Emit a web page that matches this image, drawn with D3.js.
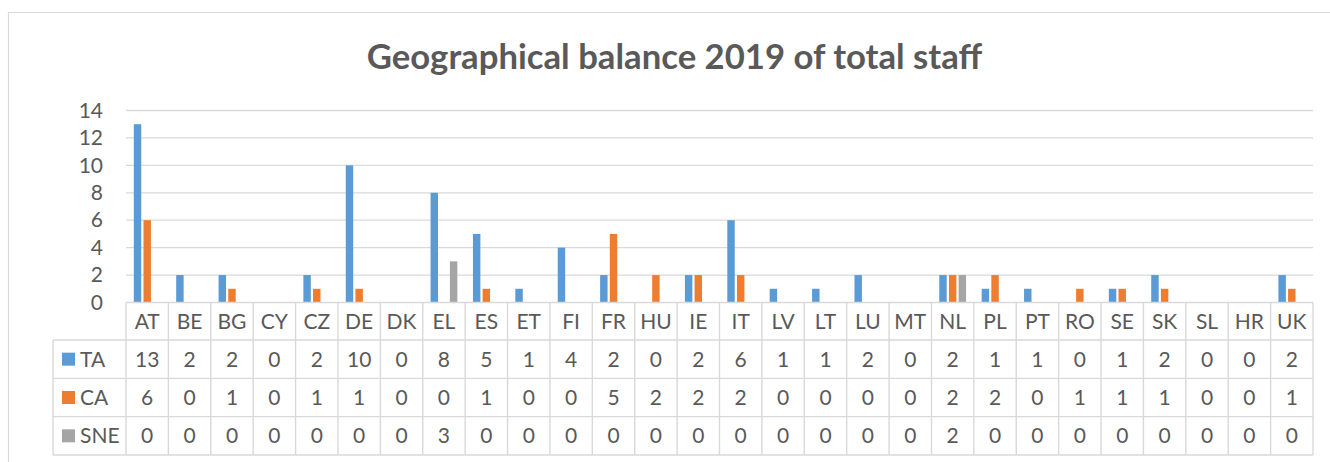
<!DOCTYPE html>
<html>
<head>
<meta charset="utf-8">
<script src="https://cdn.jsdelivr.net/npm/d3@7"></script>
<style>
  html, body { margin: 0; padding: 0; background: #fff; }
  svg { display: block; }
</style>
</head>
<body>
<svg id="chart" width="1330" height="462"></svg>
<script>
const categories = ["AT","BE","BG","CY","CZ","DE","DK","EL","ES","ET","FI","FR","HU","IE","IT","LV","LT","LU","MT","NL","PL","PT","RO","SE","SK","SL","HR","UK"];
const seriesNames = ["TA","CA","SNE"];
const taValues  = [13,2,2,0,2,10,0,8,5,1,4,2,0,2,6,1,1,2,0,2,1,1,0,1,2,0,0,2];
const caValues  = [6,0,1,0,1,1,0,0,1,0,0,5,2,2,2,0,0,0,0,2,2,0,1,1,1,0,0,1];
const sneValues = [0,0,0,0,0,0,0,3,0,0,0,0,0,0,0,0,0,0,0,2,0,0,0,0,0,0,0,0];
const yTicks = [0,2,4,6,8,10,12,14];
const titleText = "Geographical balance 2019 of total staff";

const seriesValues = [taValues, caValues, sneValues];
const colors = ["#5B9BD5", "#ED7D31", "#A5A5A5"];
const font = "Lato, 'Open Sans', sans-serif";
const textColor = "#595959";
const lineColor = "#D9D9D9";

const svg = d3.select("#chart");
svg.append("rect").attr("width", 1330).attr("height", 462).attr("fill", "#fff");

// chart frame
svg.append("path")
  .attr("d", "M8.5,462 V12.5 H1330")
  .attr("fill", "none").attr("stroke", lineColor).attr("stroke-width", 1.2);

// title
svg.append("text")
  .attr("x", 674.5).attr("y", 69)
  .attr("text-anchor", "middle")
  .attr("font-family", font).attr("font-weight", "bold")
  .attr("font-size", 34.7).attr("fill", textColor)
  .text(titleText);

const plotLeft = 126, plotRight = 1313;
const x = d3.scaleBand().domain(categories).range([plotLeft, plotRight]).padding(0);
const y = d3.scaleLinear().domain([0, 14]).range([302.5, 110.5]);
const x1 = d3.scaleBand().domain(seriesNames)
  .range([7.8, x.bandwidth() - 7.8]).paddingInner(0.23);

// gridlines
svg.append("g").selectAll("line").data(yTicks.filter(d => d > 0)).join("line")
  .attr("x1", plotLeft).attr("x2", plotRight)
  .attr("y1", d => y(d)).attr("y2", d => y(d))
  .attr("stroke", lineColor).attr("stroke-width", 1.3);

// y axis labels
const yAxis = svg.append("g").attr("transform", "translate(106,0)")
  .call(d3.axisLeft(y).tickValues(yTicks).tickSize(0).tickPadding(3));
yAxis.select(".domain").remove();
yAxis.selectAll("text")
  .attr("font-family", font).attr("font-size", 21).attr("fill", textColor);

// bars
const groups = svg.append("g").selectAll("g").data(categories).join("g")
  .attr("transform", d => `translate(${x(d)},0)`);
groups.selectAll("rect")
  .data((c, i) => seriesNames.map((s, k) => ({ s, k, v: seriesValues[k][i] })))
  .join("rect")
  .attr("x", d => x1(d.s))
  .attr("width", x1.bandwidth())
  .attr("y", d => y(d.v))
  .attr("height", d => y(0) - y(d.v))
  .attr("fill", d => colors[d.k]);

// data table
const rowTop = 302.5, headerBottom = 340, rowH = 38.33;
const legendLeft = 53;
const rowsY = seriesNames.map((s, k) => headerBottom + k * rowH);
const tableBottom = headerBottom + 3 * rowH;
const tbl = svg.append("g").attr("stroke", lineColor).attr("stroke-width", 1.4);

// axis line / table top
tbl.append("line").attr("x1", plotLeft).attr("x2", plotRight)
  .attr("y1", rowTop).attr("y2", rowTop);
// horizontal row lines
tbl.selectAll(".hl").data([headerBottom, ...rowsY.slice(1), tableBottom]).join("line")
  .attr("x1", legendLeft).attr("x2", plotRight)
  .attr("y1", d => d).attr("y2", d => d);
// vertical lines
tbl.selectAll(".vl").data([...categories.map(c => x(c)), plotRight]).join("line")
  .attr("x1", d => d).attr("x2", d => d)
  .attr("y1", rowTop).attr("y2", tableBottom);
tbl.append("line").attr("x1", legendLeft).attr("x2", legendLeft)
  .attr("y1", headerBottom).attr("y2", tableBottom);

const tfs = 21;
// header labels
svg.append("g").selectAll("text").data(categories).join("text")
  .attr("x", d => x(d) + x.bandwidth() / 2)
  .attr("y", (rowTop + headerBottom) / 2)
  .attr("dy", "0.36em")
  .attr("text-anchor", "middle")
  .attr("font-family", font).attr("font-size", tfs).attr("fill", textColor)
  .text(d => d);

// legend keys + names
const leg = svg.append("g");
seriesNames.forEach((s, k) => {
  const cy = rowsY[k] + rowH / 2;
  leg.append("rect").attr("x", 62).attr("y", cy - 6.5).attr("width", 13).attr("height", 13)
    .attr("fill", colors[k]);
  leg.append("text").attr("x", 80).attr("y", cy).attr("dy", "0.36em")
    .attr("font-family", font).attr("font-size", tfs).attr("fill", textColor)
    .text(s);
  svg.append("g").selectAll("text").data(categories).join("text")
    .attr("x", d => x(d) + x.bandwidth() / 2)
    .attr("y", cy).attr("dy", "0.36em")
    .attr("text-anchor", "middle")
    .attr("font-family", font).attr("font-size", tfs).attr("fill", textColor)
    .text((d, i) => seriesValues[k][i]);
});
</script>
</body>
</html>
